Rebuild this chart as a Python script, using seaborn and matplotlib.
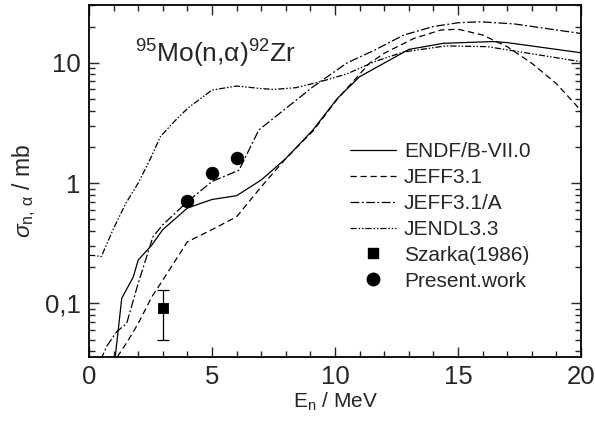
import numpy as np
import pandas as pd
import matplotlib
matplotlib.use("Agg")
import matplotlib.pyplot as plt
import matplotlib.ticker as mticker
from matplotlib.lines import Line2D
import seaborn as sns

# ---- data ----
endf_x = [1.0, 1.06, 1.33, 1.8, 2.0, 2.55, 3.0, 4.0, 5.0, 6.0, 7.0, 8.0, 9.1, 10.1, 11.0, 13.0, 14.4, 16.4, 17.0, 20.0]
endf_y = [0.02, 0.035, 0.11, 0.166, 0.229, 0.305, 0.41, 0.62, 0.73, 0.785, 1.06, 1.6, 2.76, 5.06, 7.65, 12.9, 14.5, 15.0, 14.7, 12.1]

jeff_x = [1.0, 1.19, 1.53, 2.0, 2.55, 3.0, 4.0, 5.0, 6.0, 7.0, 8.0, 9.1, 10.1, 11.4, 12.0, 13.2, 14.3, 15.0, 16.0, 17.0, 18.0, 19.0, 20.0]
jeff_y = [0.03, 0.037, 0.047, 0.068, 0.113, 0.156, 0.325, 0.41, 0.525, 0.93, 1.6, 2.7, 5.0, 9.9, 12.0, 15.9, 18.7, 19.0, 17.0, 13.6, 9.9, 6.7, 4.0]

jeffa_x = [0.3, 0.45, 0.72, 1.12, 1.53, 2.0, 2.6, 3.0, 4.0, 5.0, 6.1, 6.9, 8.0, 9.1, 10.5, 11.6, 12.8, 14.0, 15.0, 15.9, 17.3, 20.0]
jeffa_y = [0.025, 0.033, 0.044, 0.058, 0.068, 0.147, 0.358, 0.45, 0.70, 1.03, 1.28, 2.76, 4.17, 6.3, 10.0, 12.7, 17.0, 20.0, 21.5, 21.9, 21.0, 17.5]

jendl_x = [0.0, 0.17, 0.5, 1.0, 1.5, 2.0, 2.5, 2.9, 3.5, 4.0, 5.0, 6.0, 7.0, 7.5, 8.4, 9.4, 10.5, 11.6, 12.8, 14.5, 16.2, 20.0]
jendl_y = [0.25, 0.25, 0.245, 0.42, 0.68, 1.0, 1.6, 2.43, 3.3, 4.17, 5.93, 6.4, 6.1, 6.0, 6.2, 6.95, 8.1, 10.2, 12.3, 13.8, 13.6, 10.2]

szarka_x = [3.0]
szarka_y = [0.091]
szarka_lo = [0.050]
szarka_hi = [0.130]

present_x = [4.0, 5.0, 6.0]
present_y = [0.71, 1.22, 1.62]

labels = ["ENDF/B-VII.0", "JEFF3.1", "JEFF3.1/A", "JENDL3.3", "Szarka(1986)", "Present.work"]

# ---- style ----
sns.set_style("ticks")
plt.rcParams['font.family'] = ['Liberation Sans', 'DejaVu Sans']
plt.rcParams['mathtext.fontset'] = 'custom'
plt.rcParams['mathtext.rm'] = 'Liberation Sans'
plt.rcParams['mathtext.it'] = 'Liberation Sans:italic'
plt.rcParams['mathtext.sf'] = 'Liberation Sans'

fig = plt.figure(figsize=(5.95, 4.37), dpi=100)
ax = fig.add_axes([0.1496, 0.183, 0.8269, 0.8056])

styles = [
    (endf_x, endf_y, (None, None), labels[0]),
    (jeff_x, jeff_y, (5, 3), labels[1]),
    (jeffa_x, jeffa_y, (7, 2, 1.5, 2), labels[2]),
    (jendl_x, jendl_y, (5, 1.5, 1.2, 1.5, 1.2, 1.5), labels[3]),
]
handles = []
for xs, ys, dash, lab in styles:
    df = pd.DataFrame({"x": xs, "y": ys})
    sns.lineplot(data=df, x="x", y="y", ax=ax, color="black", lw=0.9, sort=False)
    ln = ax.lines[-1]
    if dash[0] is not None:
        ln.set_dashes(dash)
    h = Line2D([0], [0], color="black", lw=0.9)
    if dash[0] is not None:
        h.set_dashes(dash)
    handles.append(h)

# Szarka point with error bar
ax.errorbar(szarka_x, szarka_y,
            yerr=[np.array(szarka_y) - np.array(szarka_lo), np.array(szarka_hi) - np.array(szarka_y)],
            fmt="none", ecolor="black", elinewidth=0.9, capsize=4, capthick=0.9)
sns.scatterplot(x=szarka_x, y=szarka_y, ax=ax, marker="s", s=60, color="black", edgecolor="black", zorder=5)
sns.scatterplot(x=present_x, y=present_y, ax=ax, marker="o", s=80, color="black", edgecolor="black", zorder=5)

handles.append(Line2D([0], [0], ls="none", marker="s", ms=7.5, color="black"))
handles.append(Line2D([0], [0], ls="none", marker="o", ms=9, color="black"))

ax.set_yscale("log")
ax.set_xlim(0, 20)
ax.set_ylim(0.0358, 30.2)

ax.xaxis.set_major_locator(mticker.MultipleLocator(5))
ax.xaxis.set_minor_locator(mticker.MultipleLocator(1))
ax.yaxis.set_major_locator(mticker.FixedLocator([0.1, 1, 10]))
ax.yaxis.set_minor_locator(mticker.LogLocator(base=10, subs=np.arange(2, 10)))
ax.yaxis.set_major_formatter(mticker.FixedFormatter(["0,1", "1", "10"]))
ax.yaxis.set_minor_formatter(mticker.NullFormatter())

ax.tick_params(which="both", direction="in", top=True, right=True, width=1.0)
ax.tick_params(which="major", length=7, labelsize=18.5, pad=6)
ax.tick_params(which="minor", length=4)
for sp in ax.spines.values():
    sp.set_linewidth(1.3)
    sp.set_color("black")

ax.set_xlabel(r"E$_{\mathrm{n}}$ / MeV", fontsize=15, labelpad=1)
ax.set_ylabel(r"$\sigma_{\mathrm{n,\,α}}$ / mb", fontsize=16.5)
ax.yaxis.set_label_coords(-0.104, 0.47)

ax.text(0.0935, 0.835, r"$^{95}$Mo(n,α)$^{92}$Zr", transform=ax.transAxes,
        fontsize=19, ha="left", va="baseline")

leg = ax.legend(handles, labels, loc="upper left", bbox_to_anchor=(0.53, 0.61),
                frameon=False, fontsize=15, handlelength=2.2, handletextpad=0.4,
                labelspacing=0.33, borderpad=0, borderaxespad=0)

fig.savefig("out.png", dpi=100)
